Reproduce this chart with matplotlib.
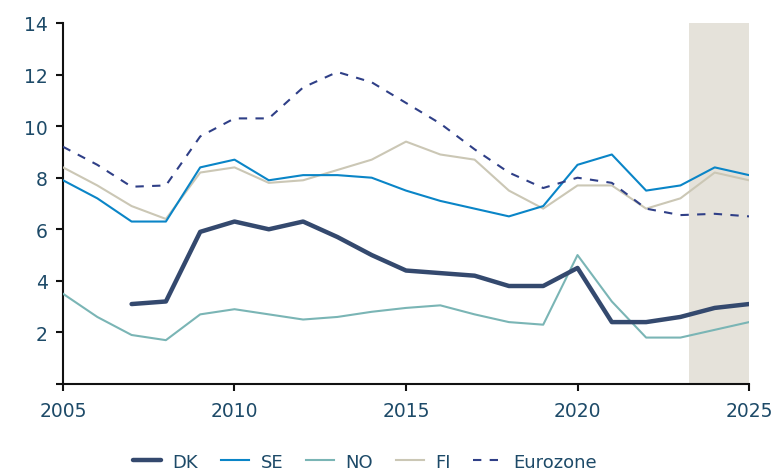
import numpy as np
import matplotlib
matplotlib.use('Agg')
import matplotlib.pyplot as plt

years = list(range(2005, 2026))
dk = [np.nan, np.nan, 3.1, 3.2, 5.9, 6.3, 6.0, 6.3, 5.7, 5.0, 4.4, 4.3, 4.2, 3.8, 3.8, 4.5, 2.4, 2.4, 2.6, 2.95, 3.1]
se = [7.9, 7.2, 6.3, 6.3, 8.4, 8.7, 7.9, 8.1, 8.1, 8.0, 7.5, 7.1, 6.8, 6.5, 6.9, 8.5, 8.9, 7.5, 7.7, 8.4, 8.1]
no = [3.5, 2.6, 1.9, 1.7, 2.7, 2.9, 2.7, 2.5, 2.6, 2.8, 2.95, 3.05, 2.7, 2.4, 2.3, 5.0, 3.2, 1.8, 1.8, 2.1, 2.4]
fi = [8.4, 7.7, 6.9, 6.4, 8.2, 8.4, 7.8, 7.9, 8.3, 8.7, 9.4, 8.9, 8.7, 7.5, 6.8, 7.7, 7.7, 6.8, 7.2, 8.2, 7.9]
eurozone = [9.2, 8.5, 7.65, 7.7, 9.6, 10.3, 10.3, 11.5, 12.1, 11.7, 10.9, 10.1, 9.1, 8.2, 7.6, 8.0, 7.8, 6.8, 6.55, 6.6, 6.5]
forecast_start = 2023.25

text_col = '#1d4a68'
plt.rcParams['font.family'] = 'DejaVu Sans'

fig = plt.figure(figsize=(7.71, 4.77), dpi=100)
ax = fig.add_axes([0.0817, 0.1929, 0.8898, 0.7568])

ax.axvspan(forecast_start, 2025, color='#e5e2da', lw=0, zorder=0)
ax.plot(years, dk, color='#34496e', lw=3.2, label='DK', solid_capstyle='round', zorder=5)
ax.plot(years, se, color='#0a85c7', lw=1.5, label='SE', zorder=4)
ax.plot(years, no, color='#7ab5b5', lw=1.5, label='NO', zorder=3)
ax.plot(years, fi, color='#cbc7b5', lw=1.5, label='FI', zorder=3)
ax.plot(years, eurozone, color='#2f3f87', lw=1.5, ls=(0, (4, 4)), label='Eurozone', zorder=4)

ax.set_xlim(2005, 2025)
ax.set_ylim(0, 14)
ax.set_xticks(range(2005, 2026, 5))
ax.set_yticks(range(0, 15, 2))
ax.set_yticklabels([''] + [str(v) for v in range(2, 15, 2)])

for s in ['top', 'right']:
    ax.spines[s].set_visible(False)
for s in ['left', 'bottom']:
    ax.spines[s].set_linewidth(1.5)
    ax.spines[s].set_color('#111111')
ax.tick_params(axis='both', length=5, width=1.5, color='#111111',
               labelsize=13.5, labelcolor=text_col, pad=6)
ax.tick_params(axis='x', pad=7)

leg = ax.legend(loc='upper center', bbox_to_anchor=(0.44, -0.145), ncol=5,
                frameon=False, fontsize=13, handlelength=1.55, handletextpad=0.65,
                columnspacing=1.25)
for t in leg.get_texts():
    t.set_color(text_col)

fig.savefig('out.png', dpi=100)
